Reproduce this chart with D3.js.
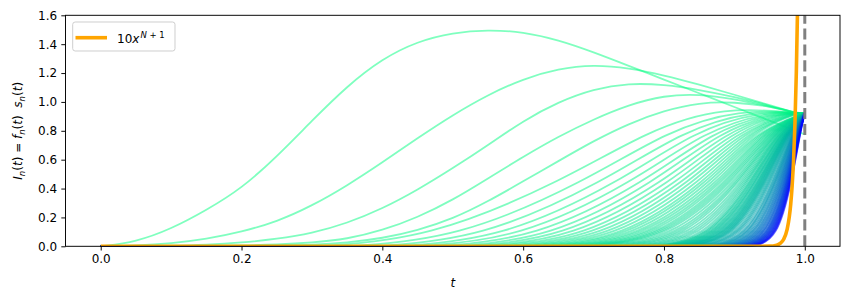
<!DOCTYPE html>
<html><head><meta charset="utf-8">
<script src="https://cdn.jsdelivr.net/npm/d3@7"></script>
<style>
body{margin:0;background:#fff}
svg{display:block}
text{font-family:"DejaVu Sans",sans-serif;fill:#000}
</style>
</head><body>
<svg id="chart" width="849" height="299"></svg>
<script>
// ================= data =================
const curveCount = 200;                 // N curves, coloured by n/N
// the five clearly separated first curves, sampled on a common t grid
const earlyT = [0,0.05,0.1,0.15,0.2,0.25,0.3,0.35,0.4,0.45,0.5,0.55,0.6,0.65,0.7,0.75,0.8,0.85,0.9,0.95,1.0];
const curve1Y = [0,0.03,0.12,0.25,0.40,0.62,0.87,1.11,1.30,1.42,1.48,1.50,1.485,1.43,1.345,1.25,1.155,1.06,0.965,0.87,0.775];
const curve2Y = [0,0.005,0.02,0.05,0.10,0.17,0.28,0.42,0.58,0.75,0.91,1.05,1.16,1.23,1.258,1.235,1.185,1.12,1.05,0.978,0.905];
const curve3Y = [0,0,0.003,0.01,0.025,0.05,0.09,0.16,0.26,0.39,0.54,0.70,0.87,1.0,1.09,1.13,1.12,1.085,1.035,0.975,0.905];
const curve4Y = [0,0,0,0.002,0.006,0.012,0.025,0.05,0.11,0.20,0.32,0.47,0.62,0.76,0.88,0.98,1.045,1.055,1.02,0.968,0.91];
const curve5Y = [0,0,0,0,0.002,0.005,0.01,0.025,0.055,0.11,0.19,0.31,0.45,0.59,0.73,0.85,0.94,0.995,1.0,0.97,0.915];
const earlyIndex = [1,2,3,4,5];

// the packed curves, described by where they cross given levels
const denseIndex = [6,7,8,9,10,11,12,13,14,15,16,17,18,19,20,21,22,23,24,25,26,27,28,29,30,31,32,33,34,35,36,37,38,39,40,41,42,43,44,45,46,47,48,49,50,51,52,53,54,55,56,57,58,59,60,62,64,66,68,70,73,76,78,81,83,85,88,91,94,97,100,103,106,110,113,116,120,124,127,131,135,139,143,147,151,155,160,164,169,173,178,183,188,194,200];
// t where the curve leaves 0
const zeroT = [0.305,0.348,0.386,0.418,0.448,0.473,0.497,0.517,0.536,0.552,0.568,0.582,0.595,0.607,0.619,0.629,0.639,0.648,0.657,0.666,0.673,0.681,0.687,0.693,0.700,0.710,0.719,0.728,0.736,0.745,0.753,0.761,0.768,0.776,0.783,0.786,0.790,0.793,0.796,0.799,0.802,0.805,0.808,0.810,0.813,0.815,0.818,0.820,0.822,0.825,0.827,0.829,0.831,0.833,0.835,0.838,0.842,0.845,0.848,0.851,0.855,0.859,0.862,0.865,0.868,0.870,0.873,0.876,0.878,0.881,0.884,0.886,0.888,0.891,0.893,0.895,0.897,0.900,0.901,0.904,0.906,0.907,0.909,0.911,0.913,0.914,0.916,0.918,0.919,0.921,0.922,0.924,0.925,0.927,0.928];
// t where the curve reaches 0.05
const footT = [0.464,0.505,0.539,0.569,0.594,0.617,0.637,0.654,0.670,0.685,0.697,0.709,0.720,0.730,0.740,0.747,0.755,0.763,0.769,0.776,0.782,0.788,0.793,0.798,0.803,0.810,0.817,0.823,0.829,0.835,0.841,0.846,0.851,0.857,0.861,0.864,0.866,0.869,0.871,0.873,0.875,0.877,0.879,0.881,0.883,0.885,0.887,0.888,0.890,0.891,0.893,0.894,0.896,0.897,0.899,0.901,0.904,0.906,0.908,0.910,0.913,0.916,0.917,0.920,0.921,0.923,0.925,0.927,0.929,0.930,0.932,0.934,0.935,0.937,0.938,0.940,0.941,0.943,0.944,0.945,0.947,0.948,0.949,0.950,0.951,0.952,0.953,0.954,0.955,0.956,0.957,0.958,0.959,0.960,0.961];
// t where the curve reaches 0.45
const midT = [0.655,0.689,0.716,0.739,0.758,0.775,0.789,0.802,0.813,0.823,0.832,0.840,0.847,0.854,0.860,0.865,0.870,0.875,0.880,0.884,0.887,0.891,0.894,0.897,0.900,0.903,0.906,0.908,0.910,0.913,0.915,0.917,0.919,0.920,0.922,0.924,0.925,0.927,0.928,0.930,0.931,0.932,0.934,0.935,0.936,0.937,0.938,0.939,0.940,0.941,0.942,0.943,0.944,0.945,0.946,0.9472,0.9486,0.9500,0.9513,0.9526,0.9543,0.9559,0.9570,0.9584,0.9593,0.9602,0.9614,0.9625,0.9636,0.9646,0.9656,0.9665,0.9674,0.9684,0.9692,0.9699,0.9708,0.9717,0.9723,0.9731,0.9738,0.9745,0.9751,0.9757,0.9763,0.9769,0.9775,0.9780,0.9786,0.9791,0.9796,0.9801,0.9806,0.9812,0.9817];
// t where the curve reaches 0.80
const highT = [0.776,0.804,0.826,0.843,0.858,0.870,0.880,0.889,0.897,0.904,0.910,0.915,0.920,0.924,0.928,0.931,0.934,0.937,0.940,0.942,0.945,0.947,0.949,0.951,0.952,0.954,0.955,0.957,0.958,0.959,0.961,0.962,0.963,0.964,0.965,0.966,0.967,0.967,0.968,0.969,0.970,0.970,0.971,0.972,0.972,0.973,0.973,0.974,0.974,0.975,0.975,0.976,0.976,0.977,0.977,0.9780,0.9787,0.9794,0.9801,0.9807,0.9816,0.9824,0.9828,0.9835,0.9840,0.9844,0.9850,0.9855,0.9860,0.9865,0.9869,0.9873,0.9877,0.9882,0.9886,0.9889,0.9893,0.9897,0.9899,0.9903,0.9906,0.9909,0.9912,0.9914,0.9917,0.9919,0.9922,0.9924,0.9927,0.9928,0.9931,0.9933,0.9935,0.9937,0.9939];
// maximum of the packed curves that still peak before t = 1
const peakT = [0.885,0.908,0.925,0.938,0.949,0.957,0.964,0.970,0.974,0.978,0.982,0.984,0.987,0.988,0.990];
const peakY = [0.972,0.952,0.941,0.935,0.931,0.928,0.927,0.926,0.926,0.925,0.925,0.925,0.925,0.925,0.925];
// value at t = 1 (first packed curves, then a common plateau)
const endY = [0.918,0.920,0.921,0.921];
const plateauY = 0.922;
const levelFoot = 0.05, levelMid = 0.45, levelHigh = 0.80;

// orange reference curve 10 x^(N+1)
const boundT = [0,0.5,0.8,0.9,0.93,0.95,0.96,0.965,0.97,0.975,0.978,0.98,0.982,0.984,0.986,0.988,0.99];
const boundY = [0,0,0,0,0.0003,0.001,0.008,0.02,0.049,0.119,0.204,0.291,0.416,0.594,0.848,1.209,1.722];
const vlineT = 1.0;
const xTicks = [0,0.2,0.4,0.6,0.8,1.0];
const yTicks = [0,0.2,0.4,0.6,0.8,1.0,1.2,1.4,1.6];

// ================= drawing =================
const L = 65.5, R = 840, T = 15.3, B = 246.3;
const x = d3.scaleLinear().domain([-0.05, 1.05]).range([L, R]);
const y = d3.scaleLinear().domain([0, 1.6]).range([B, T]);
const svg = d3.select("#chart");

svg.append("defs").append("clipPath").attr("id","clip")
  .append("rect").attr("x",L).attr("y",T).attr("width",R-L).attr("height",B-T);
const plot = svg.append("g").attr("clip-path","url(#clip)");

const rounded = d3.line().x(d=>x(d[0])).y(d=>y(d[1])).curve(d3.curveBasis);
const mono = d3.line().x(d=>x(d[0])).y(d=>y(d[1])).curve(d3.curveMonotoneX);
const color = d3.interpolateRgb("rgb(0,255,128)","rgb(0,0,255)");
const drawCurve = (n, pts) => plot.append("path").attr("d",rounded(pts)).attr("fill","none")
  .attr("stroke",color((n-1)/(curveCount-1))).attr("stroke-opacity",0.5).attr("stroke-width",1.8);

const earlyCurves = [curve1Y,curve2Y,curve3Y,curve4Y,curve5Y];
earlyCurves.forEach((ys,k)=>drawCurve(earlyIndex[k], earlyT.map((t,i)=>[t,ys[i]])));

denseIndex.forEach((n,i)=>{
  // the flat start is repeated so the spline stays on 0 until it lifts off
  const z = [zeroT[i],0];
  const pts = [[0,0],z,z,z,[footT[i],levelFoot],[midT[i],levelMid],[highT[i],levelHigh]];
  if (peakT[i] !== undefined) pts.push([peakT[i],peakY[i]]);
  pts.push([1, endY[i] !== undefined ? endY[i] : plateauY]);
  drawCurve(n, pts);
});

// dashed vertical line at t = 1
plot.append("line").attr("x1",x(vlineT)).attr("x2",x(vlineT)).attr("y1",B).attr("y2",T)
  .attr("stroke","#808080").attr("stroke-width",3).attr("stroke-dasharray","11.1,4.8");

// orange curve
plot.append("path").attr("d",mono(boundT.map((t,i)=>[t,boundY[i]]))).attr("fill","none")
  .attr("stroke","#FFA500").attr("stroke-width",3.6);

// axes
const xAxis = svg.append("g").attr("transform",`translate(0,${B})`)
  .call(d3.axisBottom(x).tickValues(xTicks).tickFormat(d3.format(".1f")).tickSize(4.2).tickPadding(4.2).tickSizeOuter(0));
const yAxis = svg.append("g").attr("transform",`translate(${L},0)`)
  .call(d3.axisLeft(y).tickValues(yTicks).tickFormat(d3.format(".1f")).tickSize(4.2).tickPadding(4.2).tickSizeOuter(0));
[xAxis,yAxis].forEach(g=>{
  g.select(".domain").remove();
  g.selectAll("line").attr("stroke","#000").attr("stroke-width",0.96);
  g.selectAll("text").attr("font-family","DejaVu Sans").attr("font-size","12px").attr("fill","#000");
});
svg.append("rect").attr("x",L).attr("y",T).attr("width",R-L).attr("height",B-T)
  .attr("fill","none").attr("stroke","#000").attr("stroke-width",0.96);

// x label
svg.append("text").attr("x",(L+R)/2).attr("y",287).attr("text-anchor","middle")
  .attr("font-size","12px").attr("font-style","italic").text("t");

// y label: I_n(t) = f_n(t) s_n(t)
const yl = svg.append("text").attr("transform",`translate(22,${(T+B)/2}) rotate(-90)`)
  .attr("text-anchor","middle").attr("font-size","12px").attr("style","white-space:pre");
const parts = [
  ["I","i"],["n","s"],["(",""],["t","i"],[")",""],[" = ",""],
  ["f","i"],["n","s"],["(",""],["t","i"],[")",""],["  ",""],
  ["s","i"],["n","s"],["(",""],["t","i"],[")",""]
];
let prevSub = false;
parts.forEach(([s,k])=>{
  const ts = yl.append("tspan").text(s);
  if (k==="i") ts.attr("font-style","italic");
  if (k==="s") { ts.attr("font-style","italic").attr("font-size","8.5px").attr("dy","3"); prevSub = true; }
  else if (prevSub) { ts.attr("dy","-3"); prevSub = false; }
});

// legend
const lg = svg.append("g");
lg.append("rect").attr("x",72.7).attr("y",22).attr("width",102.3).attr("height",29)
  .attr("rx",2.5).attr("fill","#fff").attr("fill-opacity",0.8)
  .attr("stroke","#cccccc").attr("stroke-width",0.96);
lg.append("line").attr("x1",75.5).attr("x2",107).attr("y1",37.7).attr("y2",37.7)
  .attr("stroke","#FFA500").attr("stroke-width",3.6);
const lt = lg.append("text").attr("x",117).attr("y",42.5).attr("font-size","12px");
lt.append("tspan").text("10");
lt.append("tspan").attr("font-style","italic").text("x");
lt.append("tspan").attr("font-style","italic").attr("font-size","8.5px").attr("dy","-5").attr("dx","1").text("N");
lt.append("tspan").attr("font-size","8.5px").text(" + 1");
</script>
</body></html>
